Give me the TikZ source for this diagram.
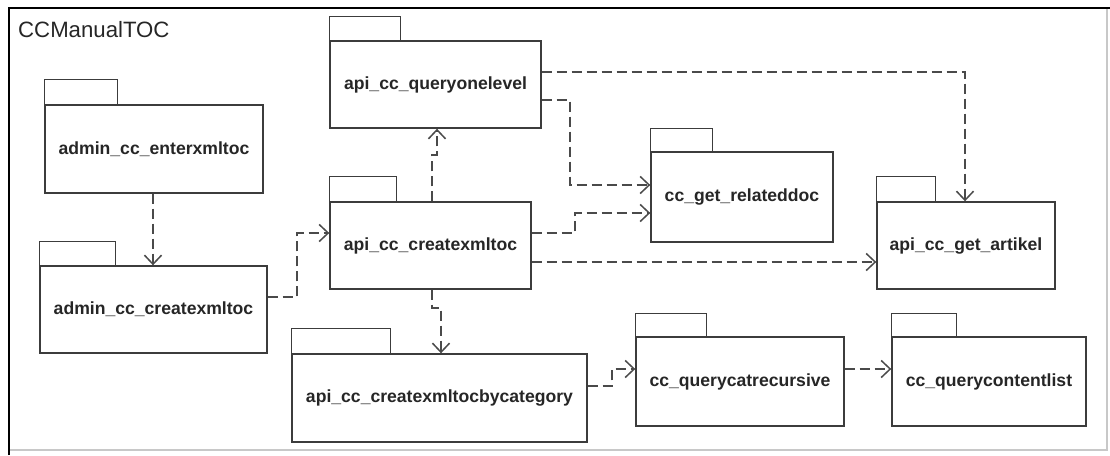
\documentclass[tikz,border=0pt]{standalone}
\usepackage{fontspec}
\setmainfont{Liberation Sans}
\usetikzlibrary{arrows.meta}
\definecolor{boxline}{HTML}{3C3C3C}
\definecolor{depline}{HTML}{4A4A4A}
\definecolor{labeltext}{HTML}{262626}
\definecolor{frameedge}{HTML}{C8C8C8}
\begin{document}
\begin{tikzpicture}[x=1pt,y=-1pt,
  pkg/.style 2 args={draw=boxline, line width=1.4pt, fill=white, inner sep=0pt,
    minimum width=#1pt, minimum height=#2pt,
    font=\fontsize{17.6}{20}\selectfont\bfseries, text=labeltext},
  tab/.style={draw=boxline, line width=1.4pt, fill=white},
  dep/.style={draw=depline, line width=1.5pt, dash pattern=on 10pt off 5pt,
    -{Straight Barb[length=9pt,width=17pt]}}]

% canvas and frame
\useasboundingbox (0,0) rectangle (1110,455);
\fill[white] (0,0) rectangle (1110,455);
\draw[frameedge, line width=1.2pt] (1107,8) -- (1107,450) -- (9,450);
\draw[black, line width=2.6pt] (9,455) -- (9,8) -- (1110,8);
\node[anchor=west, inner sep=0pt, text=labeltext, font=\fontsize{22.2}{25}\selectfont]
  (title) at (18,29.5) {CCManualTOC};

% packages
\node[pkg={218}{88}] (enter)   at (154,149)   {admin\_cc\_enterxmltoc};
\node[pkg={227}{87}] (admcrt)  at (153.5,309.5) {admin\_cc\_createxmltoc};
\node[pkg={201}{87}] (apicrt)  at (430.5,245.5) {api\_cc\_createxmltoc};
\node[pkg={211}{87}] (qone)    at (435.5,84.5)  {api\_cc\_queryonelevel};
\node[pkg={182}{90}] (related) at (742,197)     {cc\_get\_relateddoc};
\node[pkg={178}{87}] (artikel) at (966,245.5)   {api\_cc\_get\_artikel};
\node[pkg={295}{88}] (bycat)   at (439.5,398)   {api\_cc\_createxmltocbycategory};
\node[pkg={208}{89}] (catrec)  at (740,381.5)   {cc\_querycatrecursive};
\node[pkg={194}{89}] (clist)   at (989,381.5)   {cc\_querycontentlist};

% package tabs
\draw[tab] (enter.north west)   rectangle ++(73,-25);
\draw[tab] (admcrt.north west)  rectangle ++(76,-24);
\draw[tab] (apicrt.north west)  rectangle ++(67,-25);
\draw[tab] (qone.north west)    rectangle ++(71,-24);
\draw[tab] (related.north west) rectangle ++(62,-23);
\draw[tab] (artikel.north west) rectangle ++(59,-25);
\draw[tab] (bycat.north west)   rectangle ++(99,-25);
\draw[tab] (catrec.north west)  rectangle ++(71,-23);
\draw[tab] (clist.north west)   rectangle ++(65,-23);

% dependencies
\draw[dep] (enter.south -| 153,0) -- (admcrt.north -| 153,0);
\draw[dep] (admcrt.east |- 0,297) -- (297,297) -- (297,233) -- (apicrt.west |- 0,233);
\draw[dep] (apicrt.north -| 432,0) -- (432,155) -- (437,155) -- (qone.south -| 437,0);
\draw[dep] (apicrt.south -| 432,0) -- (432,308) -- (441,308) -- (bycat.north -| 441,0);
\draw[dep] (qone.east |- 0,100) -- (570,100) -- (570,185) -- (related.west |- 0,185);
\draw[dep] (qone.east |- 0,72) -- (965,72) -- (artikel.north -| 965,0);
\draw[dep] (apicrt.east |- 0,233) -- (575,233) -- (575,213) -- (related.west |- 0,213);
\draw[dep] (apicrt.east |- 0,262) -- (artikel.west |- 0,262);
\draw[dep] (bycat.east |- 0,386) -- (612,386) -- (612,369) -- (catrec.west |- 0,369);
\draw[dep] (catrec.east |- 0,369) -- (clist.west |- 0,369);
\end{tikzpicture}
\end{document}
